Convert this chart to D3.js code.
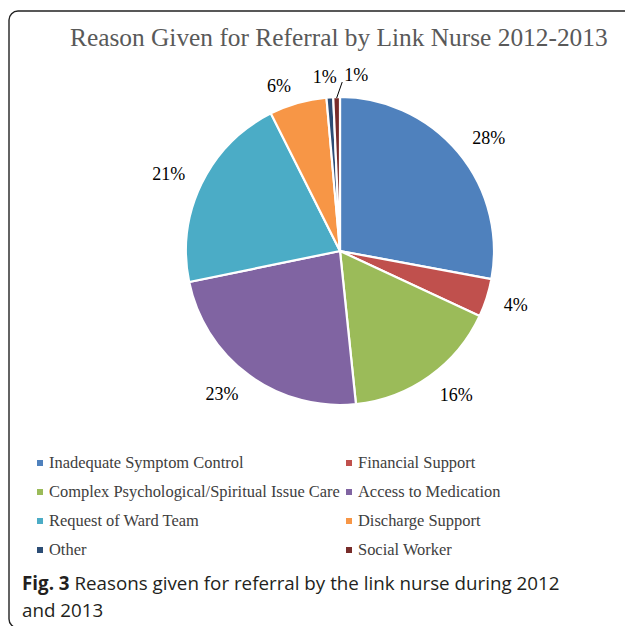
<!DOCTYPE html>
<html lang="en">
<head>
    <meta charset="UTF-8">
    <title>Reason Given for Referral by Link Nurse 2012-2013</title>
    <script src="https://d3js.org/d3.v7.min.js"></script>
    <style>
        body { margin: 0; background: #fff; }
        svg { display: block; }
        .serif { font-family: "Liberation Serif", "DejaVu Serif", serif; }
        .caption { font-family: "Open Sans", "Noto Sans", sans-serif; fill: #231f20; }
    </style>
</head>
<body>
    <svg id="chart"></svg>
    <script>
        // data (percent of referrals)
        const categories = [
            "Inadequate Symptom Control", "Financial Support",
            "Complex Psychological/Spiritual Issue Care", "Access to Medication",
            "Request of Ward Team", "Discharge Support",
            "Other", "Social Worker"
        ];
        const values = [27.9, 4.0, 16.4, 23.4, 20.8, 6.0, 0.7, 0.7];
        const colors = ["#4f81bd", "#c0504d", "#9bbb59", "#8064a2", "#4bacc6", "#f79646", "#2c4d75", "#772c2a"];
        const title = "Reason Given for Referral by Link Nurse 2012-2013";
        const captionBold = "Fig. 3";
        const captionLines = [" Reasons given for referral by the link nurse during 2012", "and 2013"];

        const width = 625, height = 626;
        const cx = 340, cy = 251, radius = 154;

        const svg = d3.select("#chart").attr("width", width).attr("height", height);

        // shrink/grow a text's font size so it spans a given width
        function fitWidth(sel, target) {
            const fs = parseFloat(sel.attr("font-size"));
            const w = sel.node().getComputedTextLength();
            const nf = fs * target / w;
            sel.attr("font-size", nf);
            return nf;
        }

        // chart frame (bottom edge falls just off the picture)
        svg.append("rect")
            .attr("x", 9).attr("y", 11)
            .attr("width", 630).attr("height", 617)
            .attr("rx", 9)
            .attr("fill", "none")
            .attr("stroke", "#222")
            .attr("stroke-width", 1.4);

        // title
        const t = svg.append("text")
            .attr("class", "serif")
            .attr("x", 70).attr("y", 46)
            .attr("font-size", 24)
            .attr("fill", "#595959")
            .text(title);
        fitWidth(t, 538);

        // pie
        const total = d3.sum(values);
        const pie = d3.pie().sort(null).value(d => d.v);
        const arcs = pie(categories.map((c, i) => ({c, v: values[i], color: colors[i]})));
        const arc = d3.arc().innerRadius(0).outerRadius(radius);

        const g = svg.append("g").attr("transform", `translate(${cx},${cy})`);
        g.selectAll("path")
            .data(arcs)
            .join("path")
            .attr("d", arc)
            .attr("fill", d => d.data.color)
            .attr("stroke", "#fff")
            .attr("stroke-width", 2.2);

        // data labels, placed just outside the rim
        const labelR = radius + 20;
        const labelNudge = {5: [-2, 5], 6: [8, 3], 7: [32, 1]};
        const labels = g.selectAll("text.lbl")
            .data(arcs)
            .join("text")
            .attr("class", "lbl serif")
            .attr("font-size", 18)
            .attr("fill", "#000")
            .attr("text-anchor", "middle")
            .text(d => Math.round(d.data.v / total * 100) + "%");

        labels.each(function(d, i) {
            const a = (d.startAngle + d.endAngle) / 2;
            const w = this.getComputedTextLength();
            let x = Math.sin(a) * (labelR - 2) + Math.sign(Math.sin(a)) * w / 2;
            let y = -Math.cos(a) * (labelR + 3);
            if (labelNudge[i]) { x += labelNudge[i][0]; y += labelNudge[i][1]; }
            d.lx = x; d.ly = y; d.lw = w;
            d3.select(this).attr("x", x).attr("y", y + 6);
        });

        // leader line for the last thin slice
        const last = arcs[arcs.length - 1];
        const la = (last.startAngle + last.endAngle) / 2;
        g.append("line")
            .attr("x1", Math.sin(la) * (radius - 1)).attr("y1", -Math.cos(la) * (radius - 1))
            .attr("x2", last.lx - last.lw / 2 - 2).attr("y2", last.ly + 7)
            .attr("stroke", "#000").attr("stroke-width", 1);

        // legend, two columns
        const legend = svg.append("g");
        const rows = legend.selectAll("g")
            .data(categories)
            .join("g")
            .attr("transform", (d, i) => `translate(${i % 2 ? 349 : 40},${463 + Math.floor(i / 2) * 29})`);
        rows.append("rect")
            .attr("x", -3).attr("y", -3)
            .attr("width", 6).attr("height", 6)
            .attr("fill", (d, i) => colors[i]);
        const ltext = rows.append("text")
            .attr("class", "serif")
            .attr("x", 9).attr("y", 5)
            .attr("font-size", 15)
            .attr("fill", "#404040")
            .text(d => d);
        const lfs = fitWidth(ltext.filter((d, i) => i === 2), 291);
        ltext.attr("font-size", lfs);

        // figure caption
        const cap = svg.append("text")
            .attr("class", "caption")
            .attr("x", 22).attr("y", 590)
            .attr("font-size", 19);
        cap.append("tspan").attr("font-weight", "bold").text(captionBold);
        cap.append("tspan").text(captionLines[0]);
        const cfs = fitWidth(cap, 538);
        svg.append("text")
            .attr("class", "caption")
            .attr("x", 22).attr("y", 617)
            .attr("font-size", cfs)
            .text(captionLines[1]);
    </script>
</body>
</html>
